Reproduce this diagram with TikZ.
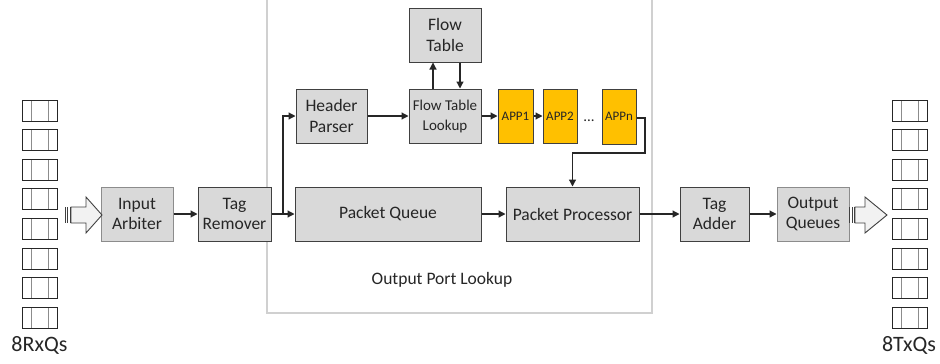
\documentclass[tikz,border=0pt]{standalone}
\usepackage{fontspec}
\setmainfont{Carlito}
\usetikzlibrary{arrows.meta}
\definecolor{blockfill}{RGB}{217,217,217}
\definecolor{blockline}{RGB}{64,64,64}
\definecolor{appfill}{RGB}{255,192,0}
\definecolor{portline}{RGB}{208,208,208}
\definecolor{textgray}{RGB}{38,38,38}
\tikzset{block/.style={draw=blockline,fill=blockfill,line width=1pt,inner sep=0pt,
  align=center,text=textgray,font=\fontsize{17.5}{20.5}\selectfont},
 appbox/.style={draw=blockline,fill=appfill,line width=1pt,inner sep=0pt,
  minimum width=34pt,minimum height=54pt,text=textgray,font=\fontsize{13}{15}\selectfont},
 link/.style={-{Triangle[length=7pt,width=7pt]},line width=1.2pt,draw=textgray},
 fatarrow/.style={draw=blockline,fill=black!5,line width=0.9pt},
 every node/.style={text=textgray}}
\begin{document}
\begin{tikzpicture}[x=1pt,y=-1pt]
\useasboundingbox (0,0) rectangle (940,364);
\draw[portline,line width=2pt] (267,-5) rectangle (652,313);
\node[text=textgray,font=\fontsize{17.5}{20}\selectfont] (oplabel) at (442,280) {Output Port Lookup};
\foreach \ypos in {0,...,7} {
\foreach \xpos in {22,892} {
\draw[black!45,line width=1pt] (\xpos+9,100+29.6*\ypos) -- ++(0,21)
  (\xpos+26,100+29.6*\ypos) -- ++(0,21);
\draw[black!85,line width=1pt] (\xpos,100+29.6*\ypos) rectangle ++(35,21);
}
}
\node[font=\fontsize{22}{24}\selectfont] (rxq) at (39.5,345) {8RxQs};
\node[font=\fontsize{22}{24}\selectfont] (txq) at (909,345) {8TxQs};
\node[block,minimum width=72pt,minimum height=54pt,draw=black!45] (ia) at (137,214) {Input\\Arbiter};
\node[block,minimum width=73pt,minimum height=54pt] (tr) at (234.5,214) {Tag\\Remover};
\node[block,minimum width=186pt,minimum height=54pt] (pq) at (388,214) {Packet Queue};
\node[block,minimum width=133pt,minimum height=54pt] (pp) at (572.5,214) {Packet Processor};
\node[block,minimum width=69pt,minimum height=54pt] (ta) at (714.5,214) {Tag\\Adder};
\node[block,minimum width=72pt,minimum height=54pt,draw=black!45] (oq) at (813,214) {Output\\Queues};
\node[block,minimum width=71pt,minimum height=54pt] (hp) at (331.5,116) {Header\\Parser};
\node[block,minimum width=72pt,minimum height=54pt,font=\fontsize{15}{20}\selectfont] (ftl) at (445,116) {Flow Table\\Lookup};
\node[block,minimum width=72pt,minimum height=54pt] (ft) at (445,35) {Flow\\Table};
\node[appbox,minimum width=35pt] (app1) at (515.5,116) {APP1};
\node[appbox] (app2) at (560,116) {APP2};
\node[appbox,minimum height=55pt] (appn) at (619,116.5) {APPn};
\node[anchor=base,font=\fontsize{15}{18}\selectfont] (dots) at (589,121) {...};
\draw[fatarrow] (71,207) -- (86,207) -- (86,197) -- (102,215) -- (86,233) -- (86,223) -- (71,223) -- cycle;
\draw[blockline,line width=0.9pt] (65,207) -- (65,223) (67.5,207) -- (67.5,223) (70,207) -- (70,223);
\draw[fatarrow] (855,207) -- (865,207) -- (865,197) -- (887,215) -- (865,233) -- (865,223) -- (855,223) -- cycle;
\draw[blockline,line width=0.9pt] (849.5,207) -- (849.5,223) (852,207) -- (852,223) (854.5,207) -- (854.5,223);
\coordinate (split) at (283,214);
\coordinate (turn) at (645,153);
\draw[link] (ia) -- (tr);
\draw[link] (tr) -- (pq);
\draw[link] (split) |- (hp);
\draw[link] (hp) -- (ftl);
\draw[link] (ftl) -- (app1);
\draw[link] (app1) -- (app2);
\draw[link] ([xshift=-12pt]ftl.north) -- ([xshift=-12pt]ft.south);
\draw[link] ([xshift=15pt]ft.south) -- ([xshift=15pt]ftl.north);
\draw[link] ([yshift=-1.5pt]appn.east) -| (turn) -| (pp.north);
\draw[link] (pq) -- (pp);
\draw[link] (pp) -- (ta);
\draw[link] (ta) -- (oq);
\end{tikzpicture}
\end{document}
